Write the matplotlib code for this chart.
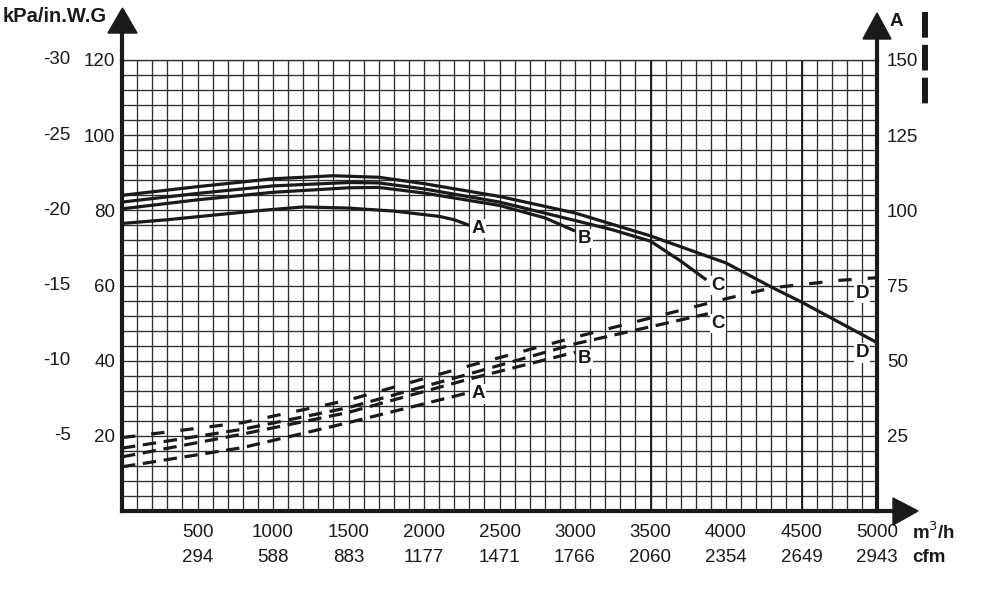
import numpy as np
import matplotlib
matplotlib.use('Agg')
import matplotlib.pyplot as plt
from matplotlib.lines import Line2D
from matplotlib.patches import Polygon

plt.rcParams['font.family'] = ['Liberation Sans', 'DejaVu Sans']

# pressure curves (solid), left scale 0..120
flow_pA = [0, 300, 600, 900, 1200, 1500, 1800, 2100, 2200, 2300]
press_A = [76.5, 77.5, 78.7, 79.9, 80.9, 80.6, 79.8, 78.4, 77.5, 76.0]
flow_pB = [0, 500, 1000, 1500, 1700, 2000, 2500, 2800, 3000]
press_B = [80.4, 82.8, 84.8, 86.0, 86.1, 84.6, 81.3, 78.0, 74.5]
flow_pC = [0, 500, 1000, 1500, 1700, 2000, 2500, 3000, 3250, 3500, 3700, 3870]
press_C = [82.2, 84.5, 86.5, 87.4, 87.3, 85.7, 82.2, 77.3, 74.8, 71.8, 66.5, 61.5]
flow_pD = [0, 500, 1000, 1400, 1700, 2000, 2500, 3000, 3500, 4000, 4300, 4500, 5000]
press_D = [84.0, 86.3, 88.4, 89.2, 88.8, 87.1, 83.7, 79.3, 73.2, 66.0, 59.6, 55.6, 44.8]

# current curves (dashed), right scale A 0..150
flow_iA = [0, 800, 1500, 2300]
amps_A = [14.7, 21.1, 29.4, 39.4]
flow_iB = [0, 800, 1500, 2300, 3000]
amps_B = [18.0, 25.6, 32.8, 43.9, 52.8]
flow_iC = [0, 800, 1500, 2300, 3000, 3880]
amps_C = [20.9, 27.2, 34.4, 45.6, 55.6, 65.6]
flow_iD = [0, 800, 1500, 2300, 3000, 4000, 4300, 4750, 5000]
amps_D = [24.4, 29.4, 36.9, 48.3, 57.8, 70.6, 74.2, 76.7, 77.6]

m3h_ticks = [500, 1000, 1500, 2000, 2500, 3000, 3500, 4000, 4500, 5000]
cfm_labels = ['294', '588', '883', '1177', '1471', '1766', '2060', '2354', '2649', '2943']
left_ticks = [20, 40, 60, 80, 100, 120]
inwg_labels = ['-5', '-10', '-15', '-20', '-25', '-30']
amp_ticks = [25, 50, 75, 100, 125, 150]

W, H = 1000, 597
FS = 13.5
k = '#1a1a1a'

fig = plt.figure(figsize=(W / 100, H / 100), dpi=100)
ax = fig.add_axes([122 / W, 1 - 511 / H, 755 / W, 451 / H])
ax.set_xlim(0, 5000)
ax.set_ylim(0, 120)

# fine grid
ax.set_xticks(np.arange(0, 5001, 100), minor=True)
ax.set_yticks(np.arange(0, 121, 4), minor=True)
ax.set_xticks(m3h_ticks)
ax.set_xticklabels([f'{m}\n{c}' for m, c in zip(m3h_ticks, cfm_labels)],
                   fontsize=FS, linespacing=1.62, color=k)
ax.set_yticks(left_ticks)
ax.set_yticklabels([str(v) for v in left_ticks], fontsize=FS, color=k)
ax.tick_params(which='both', length=0)
ax.tick_params(axis='x', pad=9.5)
ax.tick_params(axis='y', pad=5)
ax.grid(which='both', color='#2e2e2e', lw=0.95)
for xv in (3500, 4500):
    ax.axvline(xv, color='#151515', lw=1.25, zorder=1)
ax.set_axisbelow(True)

for side in ('left', 'bottom', 'right'):
    ax.spines[side].set_linewidth(3.0)
    ax.spines[side].set_color(k)
ax.spines['top'].set_linewidth(0.95)
ax.spines['top'].set_color('#2e2e2e')

# inch water gauge column
for v, lab in zip(left_ticks, inwg_labels):
    ax.text(-0.068, v, lab, transform=ax.get_yaxis_transform(), ha='right',
            va='center', fontsize=FS, color=k)

lw = 2.3
ax.plot(flow_pA, press_A, color=k, lw=lw, solid_capstyle='butt')
ax.plot(flow_pB, press_B, color=k, lw=lw, solid_capstyle='butt')
ax.plot(flow_pC, press_C, color=k, lw=lw, solid_capstyle='butt')
ax.plot(flow_pD, press_D, color=k, lw=lw, solid_capstyle='butt', clip_on=False)

ax2 = ax.twinx()
ax2.set_ylim(0, 150)
ax2.set_yticks(amp_ticks)
ax2.set_yticklabels([str(v) for v in amp_ticks], fontsize=FS, color=k)
ax2.tick_params(length=0, pad=7)
for s in ax2.spines.values():
    s.set_visible(False)

dash = (4.2, 2.4)
ax2.plot(flow_iA, amps_A, color=k, lw=lw, dashes=dash)
ax2.plot(flow_iB, amps_B, color=k, lw=lw, dashes=dash)
ax2.plot(flow_iC, amps_C, color=k, lw=lw, dashes=dash)
ax2.plot(flow_iD, amps_D, color=k, lw=lw, dashes=(4.2, 5.0), clip_on=False)

# curve letters
bb = dict(facecolor='white', edgecolor='none', pad=1.0)
letters = [('A', 2358, 75.2), ('B', 3066, 72.5), ('C', 3947, 60.0), ('D', 4901, 42.1),
           ('D', 4901, 57.9), ('C', 3947, 49.9), ('B', 3066, 40.5), ('A', 2358, 31.2)]
for t, xv, yv in letters:
    ax.text(xv, yv, t, ha='center', va='center', fontsize=FS, fontweight='bold',
            color=k, bbox=bb, zorder=5)

# axis arrows (figure pixel geometry)
def fx(p):
    return p / W

def fy(p):
    return 1 - p / H

fig.add_artist(Line2D([fx(122), fx(122)], [fy(60), fy(30)], color=k, lw=3.0))
fig.add_artist(Polygon([[fx(122.5), fy(8)], [fx(108), fy(33)], [fx(137), fy(33)]],
                       closed=True, color=k, transform=fig.transFigure))
fig.add_artist(Line2D([fx(877), fx(877)], [fy(60), fy(36)], color=k, lw=3.0))
fig.add_artist(Polygon([[fx(877), fy(13)], [fx(863), fy(39)], [fx(891), fy(39)]],
                       closed=True, color=k, transform=fig.transFigure))
fig.add_artist(Line2D([fx(877), fx(896)], [fy(511), fy(511)], color=k, lw=3.0))
fig.add_artist(Polygon([[fx(918), fy(511)], [fx(893), fy(498)], [fx(893), fy(525)]],
                       closed=True, color=k, transform=fig.transFigure))

# legend-like dashed bar top right
fig.add_artist(Line2D([fx(925), fx(925)], [fy(12), fy(105)], color=k, lw=4.3,
                      dashes=(4.3, 1.2)))

fig.text(fx(3), fy(16), 'kPa/in.W.G', fontsize=14.5, fontweight='bold', ha='left',
         va='center', color=k)
fig.text(fx(890), fy(22), 'A', fontsize=FS, fontweight='bold', ha='left', va='center', color=k)
fig.text(fx(912), fy(532), 'm$^3$/h', fontsize=FS, fontweight='bold', ha='left',
         va='center', color=k)
fig.text(fx(912), fy(557), 'cfm', fontsize=FS, fontweight='bold', ha='left', va='center',
         color=k)

fig.savefig('out.png', dpi=100)
